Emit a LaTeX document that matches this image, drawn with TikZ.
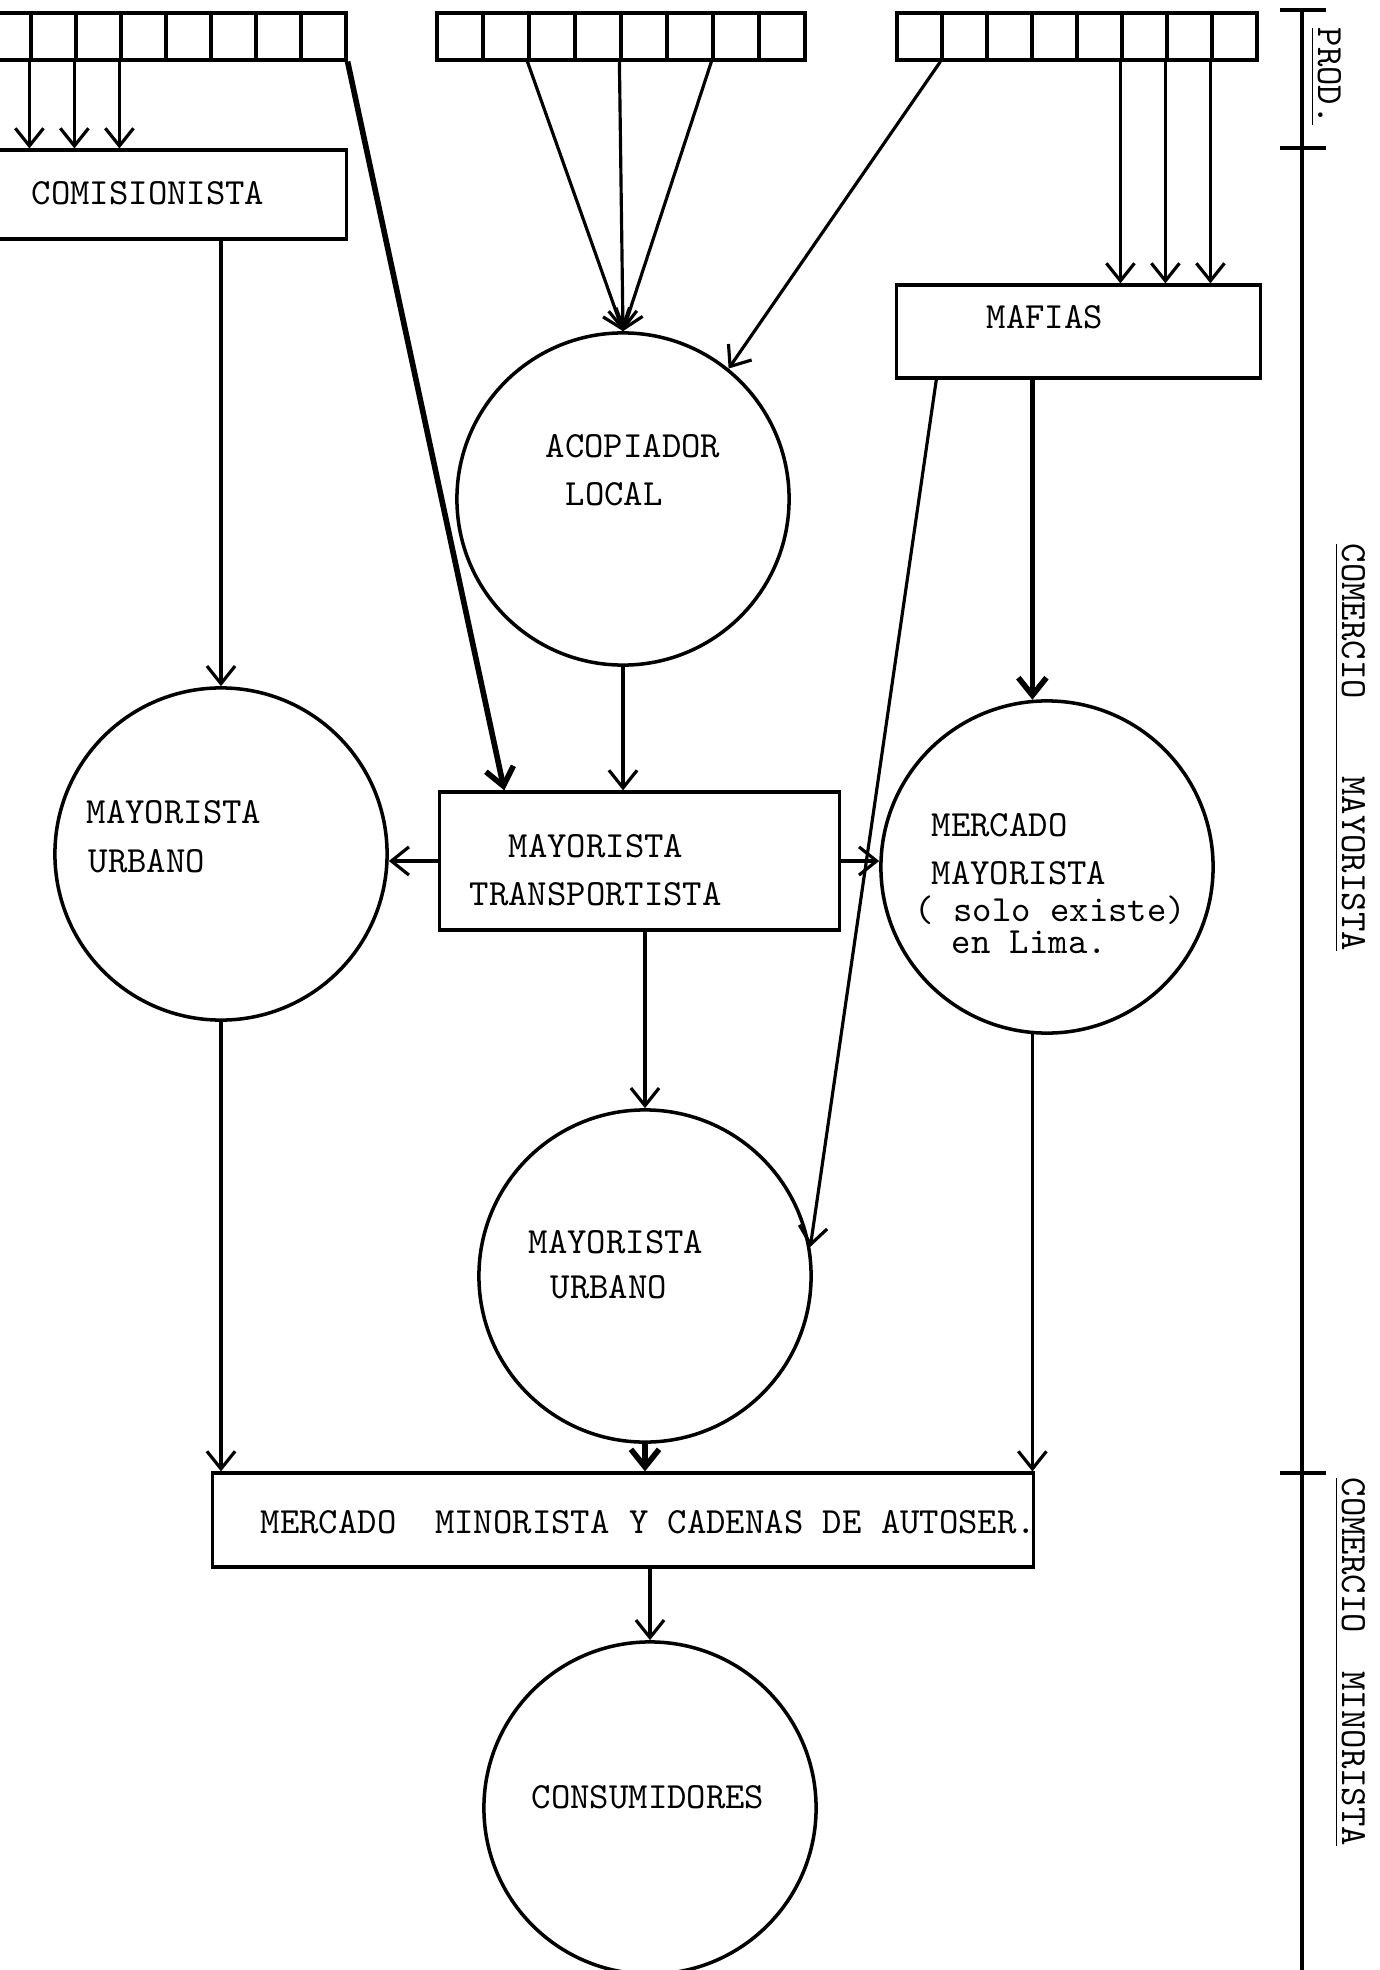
\documentclass[tikz,border=0pt]{standalone}
\usetikzlibrary{arrows.meta,calc}

\tikzset{
  flow/.style={line width=0.9pt, -{Straight Barb[length=5pt,width=8pt]}},
  heavy/.style={line width=1.6pt},
  box/.style={draw, line width=0.9pt, rectangle, inner sep=0pt},
  cell/.style={draw, line width=0.9pt, rectangle, inner sep=0pt, minimum height=0.47cm},
  agent/.style={draw, line width=1pt, circle, inner sep=0pt, minimum size=3.32cm},
  lbl/.style={inner sep=0pt, anchor=base west, font=\ttfamily\fontsize{10.5}{13}\selectfont},
}

\begin{document}
\begin{tikzpicture}[x=0.01cm, y=-0.01cm]
    \useasboundingbox (0,0) rectangle (1380,1970);
    \clip (0,0) rectangle (1380,1970);

    % productores
    \foreach \i in {1,...,8} {
      \node[cell, minimum width=0.45cm] at ({-14+45*(\i-0.5)},36.5) (b1c\i) {};
      \node[cell, minimum width=0.46cm] at ({437+46*(\i-0.5)},36.5) (b2c\i) {};
      \node[cell, minimum width=0.45cm] at ({897+45*(\i-0.5)},36.5) (b3c\i) {};
    }

    \node[box, minimum width=3.66cm, minimum height=0.89cm] at (163,194.5) (comis) {};
    \node[box, minimum width=3.63cm, minimum height=0.93cm] at (1078.5,331.5) (mafias) {};
    \node[box, minimum width=3.99cm, minimum height=1.38cm] at (639.5,861) (mt) {};
    \node[box, minimum width=8.20cm, minimum height=0.94cm] at (623,1520) (mmin) {};

    \node[agent] at (623,499) (acop) {};
    \node[agent] at (221,854) (murbL) {};
    \node[agent] at (1047,867) (mmay) {};
    \node[agent] at (645,1276) (murbC) {};
    \node[agent] at (650,1808) (cons) {};

    \node[lbl] at (31,205) (comisTxt) {COMISIONISTA};
    \node[lbl] at (986,329) (mafiasTxt) {MAFIAS};
    \node[lbl] at (545,457) (acopTxtA) {ACOPIADOR};
    \node[lbl] at (565,505) (acopTxtB) {LOCAL};
    \node[lbl] at (86,823) (murbLTxtA) {MAYORISTA};
    \node[lbl] at (88,872) (murbLTxtB) {URBANO};
    \node[lbl] at (508,857) (mtTxtA) {MAYORISTA};
    \node[lbl] at (469,905) (mtTxtB) {TRANSPORTISTA};
    \node[lbl] at (931,836) (mmayTxtA) {MERCADO};
    \node[lbl] at (931,884) (mmayTxtB) {MAYORISTA};
    \node[lbl] at (914,921) (mmayTxtC) {(~solo existe)};
    \node[lbl] at (951,953) (mmayTxtD) {en Lima.};
    \node[lbl] at (528,1253) (murbCTxtA) {MAYORISTA};
    \node[lbl] at (550,1298) (murbCTxtB) {URBANO};
    \node[lbl] at (260,1533) (mminTxt) {MERCADO~~MINORISTA Y CADENAS DE AUTOSER.};
    \node[lbl] at (531,1808) (consTxt) {CONSUMIDORES};

    % escala de la derecha
    \draw[line width=1.1pt] (1302,10) -- (1302,1975);
    \draw[line width=0.9pt] (1280,10) -- (1326,10);
    \draw[line width=0.9pt] (1280,148) -- (1326,148);
    \draw[line width=0.9pt] (1280,1473) -- (1326,1473);
    \node[lbl, rotate=-90] at (1318,27) (prodTxt) {\underline{PROD.}};
    \node[lbl, rotate=-90] at (1342,543) (cmayTxt) {\underline{COMERCIO~~~~MAYORISTA}};
    \node[lbl, rotate=-90] at (1342,1477) (cminTxt) {\underline{COMERCIO~~MINORISTA}};

    \draw[flow] (b1c2.south west) -- (b1c2.south west |- comis.north);
    \draw[flow] (b1c3.south west) -- (b1c3.south west |- comis.north);
    \draw[flow] (b1c4.south west) -- (b1c4.south west |- comis.north);
    \draw[flow] (b2c3.south west) -- (acop.north);
    \draw[flow] (b2c5.south west) -- (acop.north);
    \draw[flow] (b2c7.south west) -- (acop.north);
    \draw[flow] (b3c2.south west) -- (acop.51);
    \draw[flow] (b3c6.south west) -- (b3c6.south west |- mafias.north);
    \draw[flow] (b3c7.south west) -- (b3c7.south west |- mafias.north);
    \draw[flow] (b3c8.south west) -- (b3c8.south west |- mafias.north);
    \draw[flow, heavy] (b1c8.south east) -- ($(mt.north west)+(66,0)$);
    \draw[flow] (murbL.north |- comis.south) -- (murbL.north);
    \draw[flow] (acop.south) -- (acop.south |- mt.north);
    \draw[flow] (mt.west) -- (mt.west -| murbL.east);
    \draw[flow] (mt.east) -- (mt.east -| mmay.west);
    \draw[flow] (murbC.north |- mt.south) -- (murbC.north);
    \draw[flow, heavy] (mmay.95 |- mafias.south) -- (mmay.95);
    \draw[flow] ($(mafias.south west)+(41,0)$) -- (murbC.10);
    \draw[flow] (murbL.south) -- (murbL.south |- mmin.north);
    \draw[flow, heavy] (murbC.south) -- (murbC.south |- mmin.north);
    \draw[flow] (mmay.265) -- (mmay.265 |- mmin.north);
    \draw[flow] (cons.north |- mmin.south) -- (cons.north);

\end{tikzpicture}
\end{document}
